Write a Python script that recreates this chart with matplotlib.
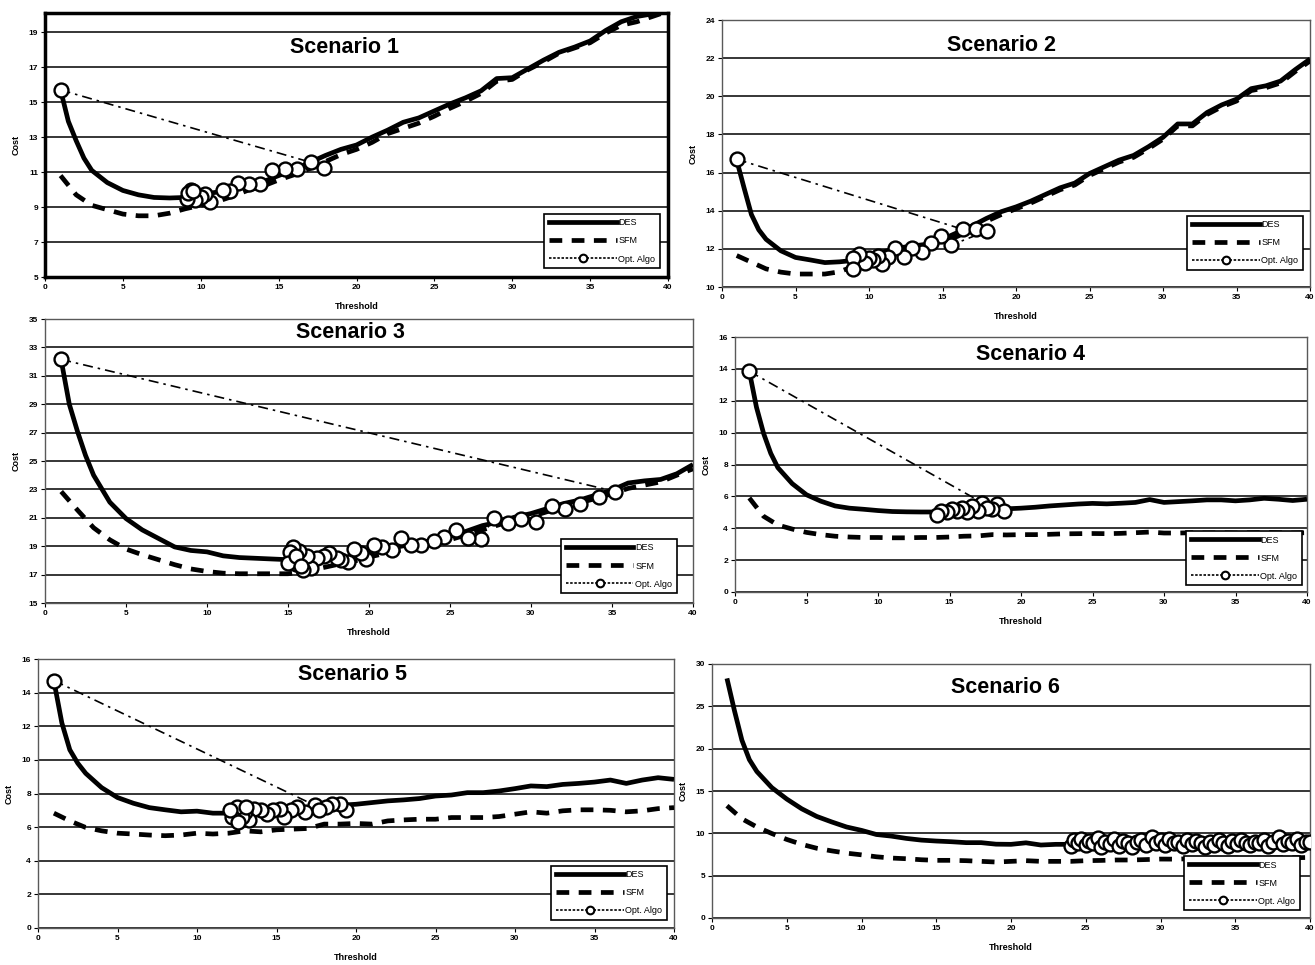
import matplotlib
matplotlib.use("Agg")
import matplotlib.pyplot as plt
from matplotlib.lines import Line2D

plt.rcParams['font.family'] = ['Liberation Sans', 'DejaVu Sans']
plt.rcParams['font.weight'] = 'bold'

# ---------------- data ----------------
thr_des = [1, 1.5, 2, 2.5, 3] + list(range(4, 41))
thr_sfm = list(range(1, 41))

des1 = [15.7, 13.9, 12.8, 11.8, 11.1, 10.4, 9.95, 9.7, 9.55, 9.52, 9.55, 9.7, 9.85, 10.05, 10.2,
        10.45, 10.8, 11.15, 11.55, 11.95, 12.3, 12.55, 13.0, 13.4, 13.85, 14.1, 14.5, 14.9, 15.25,
        15.65, 16.35, 16.4, 16.9, 17.4, 17.85, 18.15, 18.5, 19.1, 19.6, 19.9, 20.05, 20.25]
sfm1 = [10.8, 9.7, 9.1, 8.85, 8.6, 8.5, 8.5, 8.65, 8.9, 9.1, 9.3, 9.6, 9.95, 10.2, 10.55, 10.85,
        11.2, 11.6, 12.0, 12.3, 12.7, 13.2, 13.5, 13.8, 14.2, 14.65, 15.05, 15.5, 16.2, 16.3, 16.85,
        17.3, 17.8, 18.1, 18.4, 18.95, 19.4, 19.6, 19.9, 20.2]
opt1_x = [1, 17.1, 17.9, 16.2, 15.4, 14.6, 13.8, 13.1, 12.4, 11.9, 11.4, 10.6, 10.3, 10.0, 9.6,
          9.4, 9.1, 9.2, 9.5]
opt1_y = [15.7, 11.55, 11.25, 11.2, 11.15, 11.1, 10.3, 10.3, 10.35, 9.9, 10.0, 9.3, 9.75, 9.6, 9.4,
          10.0, 9.45, 9.8, 9.9]

des2 = [16.65, 15.2, 13.8, 13.0, 12.5, 11.9, 11.55, 11.42, 11.28, 11.32, 11.4, 11.6, 11.85, 12.05,
        12.15, 12.25, 12.5, 12.85, 13.2, 13.6, 13.95, 14.2, 14.5, 14.85, 15.2, 15.45, 15.95, 16.3,
        16.65, 16.9, 17.35, 17.85, 18.55, 18.55, 19.15, 19.55, 19.85, 20.4, 20.55, 20.8, 21.4, 21.95]
sfm2 = [11.65, 11.3, 10.95, 10.78, 10.68, 10.68, 10.68, 10.8, 11.1, 11.45, 11.65, 11.8, 12.0, 12.2,
        12.4, 12.65, 13.0, 13.45, 13.8, 14.1, 14.4, 14.75, 15.1, 15.35, 15.85, 16.2, 16.55, 16.8,
        17.25, 17.75, 18.45, 18.45, 19.05, 19.45, 19.75, 20.3, 20.45, 20.7, 21.3, 21.85]
opt2_x = [1, 16.4, 17.3, 18.0, 15.6, 14.9, 14.2, 13.6, 12.9, 12.4, 11.8, 11.3, 10.9, 10.6, 10.3,
          10.0, 9.7, 9.3, 8.9, 8.9]
opt2_y = [16.7, 13.02, 13.02, 12.93, 12.2, 12.65, 12.3, 11.85, 12.05, 11.55, 12.05, 11.55, 11.2,
          11.65, 11.4, 11.5, 11.25, 11.75, 11.5, 10.95]

des3 = [32.1, 29.0, 27.1, 25.4, 24.0, 22.1, 20.95, 20.15, 19.55, 18.95, 18.7, 18.6, 18.32, 18.2,
        18.15, 18.1, 18.05, 18.0, 18.0, 18.1, 18.3, 18.55, 18.8, 19.0, 19.2, 19.45, 19.7, 20.05,
        20.45, 20.7, 21.05, 21.3, 21.65, 22.0, 22.25, 22.6, 22.95, 23.45, 23.6, 23.7, 24.1, 24.75]
sfm3 = [22.85, 21.55, 20.3, 19.45, 18.8, 18.4, 18.05, 17.7, 17.4, 17.22, 17.1, 17.06, 17.06, 17.06,
        17.06, 17.22, 17.45, 17.7, 17.92, 18.23, 18.5, 18.74, 18.97, 19.2, 19.45, 19.8, 20.15, 20.5,
        20.85, 21.08, 21.43, 21.78, 22.06, 22.36, 22.7, 23.07, 23.3, 23.53, 24.0, 24.45]
opt3_x = [1, 35.2, 34.2, 33.0, 32.1, 31.3, 30.3, 29.4, 28.6, 27.7, 26.9, 26.1, 25.4, 24.6, 24.0,
          23.2, 22.6, 22.0, 21.4, 20.8, 20.3, 19.8, 19.5, 19.1, 18.7, 18.3, 18.0, 17.5, 17.2, 16.8,
          16.4, 16.2, 15.9, 15.7, 15.5, 15.3, 15.1, 15.0, 15.5, 15.8]
opt3_y = [32.15, 22.85, 22.5, 21.95, 21.6, 21.85, 20.7, 20.95, 20.6, 21.0, 19.5, 19.55, 20.15, 19.65,
          19.4, 19.05, 19.1, 19.55, 18.75, 18.95, 19.05, 18.1, 18.55, 18.8, 17.9, 18.0, 18.2, 18.5,
          18.3, 18.2, 17.5, 18.3, 17.3, 18.65, 17.75, 18.95, 18.6, 17.8, 18.3, 17.6]

des4 = [13.85, 11.6, 9.95, 8.7, 7.8, 6.8, 6.1, 5.7, 5.4, 5.26, 5.19, 5.11, 5.05, 5.03, 5.02, 5.02,
        5.05, 5.08, 5.12, 5.18, 5.22, 5.26, 5.32, 5.4, 5.46, 5.52, 5.56, 5.53, 5.57, 5.62, 5.8, 5.62,
        5.67, 5.72, 5.78, 5.78, 5.72, 5.78, 5.88, 5.82, 5.74, 5.82]
sfm4 = [5.9, 4.75, 4.2, 3.95, 3.74, 3.6, 3.5, 3.45, 3.42, 3.42, 3.4, 3.4, 3.42, 3.42, 3.45, 3.5,
        3.52, 3.6, 3.58, 3.6, 3.6, 3.62, 3.65, 3.66, 3.67, 3.66, 3.68, 3.72, 3.76, 3.7, 3.7, 3.72,
        3.7, 3.72, 3.7, 3.72, 3.74, 3.72, 3.7, 3.72]
opt4_x = [1, 17.3, 18.3, 18.8, 18.0, 17.6, 17.0, 16.6, 16.2, 15.9, 15.5, 15.2, 14.8, 14.4, 14.1]
opt4_y = [13.85, 5.6, 5.5, 5.1, 5.2, 5.3, 5.1, 5.4, 5.0, 5.3, 5.1, 5.2, 5.0, 5.1, 4.85]

des5 = [14.7, 12.2, 10.6, 9.8, 9.2, 8.35, 7.76, 7.42, 7.16, 7.03, 6.91, 6.95, 6.83, 6.83, 6.9, 6.95,
        7.0, 7.05, 7.1, 7.2, 7.3, 7.36, 7.46, 7.56, 7.62, 7.7, 7.85, 7.91, 8.05, 8.05, 8.15, 8.29,
        8.45, 8.41, 8.54, 8.6, 8.68, 8.8, 8.6, 8.8, 8.94, 8.84]
sfm5 = [6.83, 6.37, 5.98, 5.78, 5.64, 5.59, 5.53, 5.49, 5.53, 5.64, 5.59, 5.64, 5.78, 5.72, 5.84,
        5.88, 5.92, 6.18, 6.18, 6.22, 6.18, 6.37, 6.43, 6.47, 6.47, 6.57, 6.57, 6.57, 6.63, 6.77,
        6.91, 6.83, 6.97, 7.03, 7.03, 7.0, 6.91, 6.97, 7.1, 7.16]
opt5_x = [1, 17.4, 19.4, 19.0, 18.5, 18.1, 17.7, 16.8, 16.3, 15.9, 15.5, 15.2, 14.8, 14.4, 14.0,
          13.6, 13.3, 13.0, 12.8, 12.5, 12.2, 12.1, 12.6, 13.1]
opt5_y = [14.72, 7.3, 7.0, 7.4, 7.4, 7.2, 7.0, 6.9, 7.2, 7.0, 6.6, 7.1, 7.0, 6.8, 7.0, 7.1, 6.4,
          6.9, 6.6, 7.2, 6.6, 7.0, 6.3, 7.2]

des6 = [28.3, 24.5, 21.0, 18.7, 17.3, 15.4, 14.05, 12.9, 12.0, 11.35, 10.75, 10.35, 9.86, 9.67,
        9.4, 9.2, 9.09, 9.01, 8.9, 8.9, 8.72, 8.7, 8.88, 8.62, 8.7, 8.7, 8.75, 8.8, 8.8, 8.85, 8.85,
        8.9, 8.9, 8.9, 8.95, 8.95, 8.95, 9.0, 9.0, 9.0, 9.0, 9.05]
sfm6 = [13.26, 11.72, 10.75, 9.98, 9.28, 8.7, 8.24, 7.93, 7.66, 7.46, 7.23, 7.08, 7.0, 6.88, 6.81,
        6.81, 6.77, 6.69, 6.61, 6.69, 6.77, 6.69, 6.69, 6.69, 6.77, 6.8, 6.85, 6.85, 6.9, 6.96, 6.95,
        7.0, 7.0, 7.02, 7.08, 7.05, 7.1, 7.1, 7.12, 7.15]
opt6_x = [24.0, 24.2, 24.5, 24.7, 25.0, 25.2, 25.5, 25.8, 26.0, 26.3, 26.6, 26.9, 27.2, 27.5, 27.8,
          28.1, 28.4, 28.7, 29.0, 29.4, 29.7, 30.0, 30.3, 30.6, 30.9, 31.2, 31.5, 31.8, 32.1, 32.4,
          32.7, 33.0, 33.3, 33.6, 33.9, 34.2, 34.5, 34.8, 35.1, 35.4, 35.7, 36.0, 36.3, 36.6, 36.9,
          37.2, 37.5, 37.9, 38.2, 38.5, 38.8, 39.1, 39.4, 39.7, 40.0]
opt6_y = [8.5, 9.2, 8.8, 9.3, 8.6, 9.1, 8.9, 9.4, 8.4, 9.0, 8.7, 9.3, 8.5, 9.1, 8.8, 8.4, 9.0, 9.2,
          8.6, 9.6, 8.9, 9.2, 8.6, 9.3, 8.8, 9.0, 8.5, 9.2, 8.7, 9.1, 8.9, 8.4, 9.0, 8.6, 9.2, 8.8,
          8.5, 9.1, 8.7, 9.2, 8.9, 8.6, 9.0, 8.8, 9.2, 8.5, 9.0, 9.6, 8.7, 9.1, 8.8, 9.3, 8.6, 9.0, 9.0]

titles = ["Scenario 1", "Scenario 2", "Scenario 3", "Scenario 4", "Scenario 5", "Scenario 6"]
labels = ["DES", "SFM", "Opt. Algo"]
x_ticks = [0, 5, 10, 15, 20, 25, 30, 35, 40]
y_ticks = [list(range(5, 20, 2)), list(range(10, 25, 2)), list(range(15, 36, 2)),
           list(range(0, 17, 2)), list(range(0, 17, 2)), list(range(0, 31, 5))]
y_lims = [(5, 20.1), (10, 24), (15, 35), (0, 16), (0, 16), (0, 30)]

series = [(des1, sfm1, opt1_x, opt1_y), (des2, sfm2, opt2_x, opt2_y), (des3, sfm3, opt3_x, opt3_y),
          (des4, sfm4, opt4_x, opt4_y), (des5, sfm5, opt5_x, opt5_y), (des6, sfm6, opt6_x, opt6_y)]

# ---------------- layout (pixels: left, right, top, bottom) ----------------
W, H = 1315, 965
boxes = [(45, 668, 13, 277), (722, 1310, 20, 287), (45, 693, 319, 603),
         (735, 1307, 337, 592), (38, 674, 659, 928), (712, 1310, 664, 918)]
title_pos = [(0.48, 0.871), (0.476, 0.906), (0.472, 0.951), (0.516, 0.933), (0.495, 0.944), (0.49, 0.909)]
legend_anchor = [(0.987, 0.034), (0.988, 0.064), (0.975, 0.035), (0.991, 0.027), (0.989, 0.03), (0.983, 0.031)]

fig = plt.figure(figsize=(W / 100, H / 100), dpi=100)

sfm_dash = (0, (2.7, 2.0))
opt_dash = (0, (6, 3, 1.5, 3))

for i in range(6):
    l, r, t, b = boxes[i]
    ax = fig.add_axes([l / W, 1 - b / H, (r - l) / W, (b - t) / H])
    des, sfm, ox, oy = series[i]
    ax.set_xlim(0, 40)
    ax.set_ylim(*y_lims[i])
    ax.set_xticks(x_ticks)
    ax.set_yticks(y_ticks[i])
    ax.yaxis.grid(True, color='black', lw=1.1)
    ax.set_axisbelow(True)
    ax.plot(thr_des, des, color='black', lw=3.4, solid_capstyle='butt', zorder=3)
    ax.plot(thr_sfm, sfm, color='black', lw=3.4, linestyle=sfm_dash, zorder=3)
    ax.plot(ox, oy, color='black', lw=1.2, linestyle=opt_dash, marker='o', markersize=10,
            markerfacecolor='white', markeredgecolor='black', markeredgewidth=1.7, zorder=4)
    ax.tick_params(axis='both', labelsize=6, length=3, width=0.8, direction='out', pad=2)
    ax.set_xlabel("Threshold", fontsize=6.5, fontweight='bold', labelpad=8)
    ax.set_ylabel("Cost", fontsize=6.5, fontweight='bold', labelpad=6)
    ax.text(title_pos[i][0], title_pos[i][1], titles[i], transform=ax.transAxes, ha='center',
            va='center', fontsize=15.5, fontweight='bold', zorder=6)
    for sp in ax.spines.values():
        if i == 0:
            sp.set_linewidth(2.5)
            sp.set_color('black')
        else:
            sp.set_linewidth(1.0)
            sp.set_color('0.35')
    handles = [Line2D([], [], color='black', lw=3.4),
               Line2D([], [], color='black', lw=3.4, linestyle=sfm_dash),
               Line2D([], [], color='black', lw=1.2, linestyle=(0, (1.5, 1)), marker='o', markersize=5.5,
                      markerfacecolor='white', markeredgecolor='black', markeredgewidth=1.5)]
    leg = ax.legend(handles, labels, loc='lower right', bbox_to_anchor=legend_anchor[i],
                    fontsize=6.5, frameon=True, fancybox=False, framealpha=1, edgecolor='black',
                    handlelength=7.5, handletextpad=0.2, labelspacing=1.0, borderpad=0.5,
                    borderaxespad=0, numpoints=1, prop={'weight': 'normal', 'size': 6.5})
    leg.get_frame().set_linewidth(1.2)
    leg.set_zorder(7)

fig.savefig("out.png", dpi=100)
